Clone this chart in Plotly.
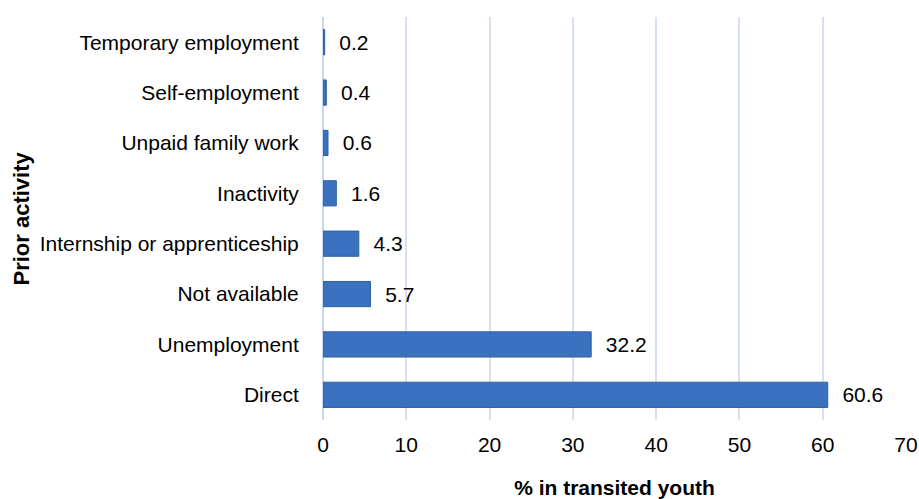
import plotly.graph_objects as go

categories = ["Direct", "Unemployment", "Not available", "Internship or apprenticeship",
              "Inactivity", "Unpaid family work", "Self-employment", "Temporary employment"]
values = [60.6, 32.2, 5.7, 4.3, 1.6, 0.6, 0.4, 0.2]
x_ticks = [0, 10, 20, 30, 40, 50, 60, 70]

FONT = "Liberation Sans, Arial, sans-serif"

fig = go.Figure()
fig.add_trace(go.Bar(
    y=categories, x=values, orientation="h",
    marker=dict(color="#3a72c0", line=dict(color="#2f5f9f", width=1)),
    width=0.5,
    text=[f"{v:.1f}" for v in values],
    texttemplate="  %{text}",
    textposition="outside",
    textfont=dict(family=FONT, size=21, color="#000000"),
    cliponaxis=False,
))

fig.add_annotation(
    text="<b>Prior activity</b>", textangle=-90,
    xref="paper", yref="paper", x=-323 / 583 + 21 / 583, y=0.5,
    xanchor="center", yanchor="middle", showarrow=False,
    font=dict(family=FONT, size=22, color="#000000"),
)

fig.update_layout(
    width=919, height=499,
    margin=dict(l=323, r=13, t=17, b=79),
    plot_bgcolor="white", paper_bgcolor="white",
    showlegend=False,
    font=dict(family=FONT, size=21, color="#000000"),
    xaxis=dict(
        range=[0, 70], tickvals=x_ticks, ticktext=[str(t) for t in x_ticks],
        showgrid=True, gridcolor="#d6e2f1", gridwidth=1.5,
        zeroline=True, zerolinecolor="#c9d8ec", zerolinewidth=1.5,
        ticks="outside", ticklen=6, tickcolor="rgba(0,0,0,0)",
        tickfont=dict(family=FONT, size=21, color="#000000"),
        title=dict(text="<b>% in transited youth</b>", standoff=25,
                   font=dict(family=FONT, size=21, color="#000000")),
        automargin=False,
        fixedrange=True,
    ),
    yaxis=dict(
        categoryorder="array", categoryarray=categories,
        showgrid=False, showline=False,
        ticks="outside", ticklen=19, tickcolor="rgba(0,0,0,0)",
        tickfont=dict(family=FONT, size=21, color="#000000"),
        automargin=False,
        fixedrange=True,
    ),
)

fig.write_html("out.html")
